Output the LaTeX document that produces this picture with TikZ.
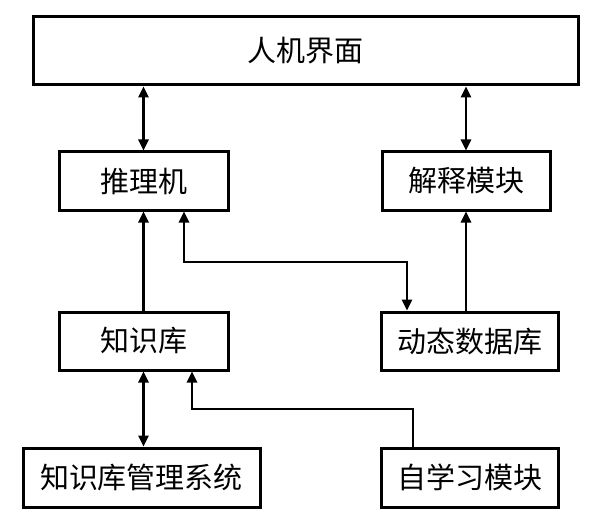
\documentclass[tikz,border=0pt]{standalone}
\usepackage{fontspec}
\newfontfamily\cjk{Noto Sans CJK SC}
\usetikzlibrary{arrows.meta}
\begin{document}
\begin{tikzpicture}[x=1pt,y=-1pt,
  box/.style={draw,line width=3pt,inner sep=0pt,font=\cjk\fontsize{29}{34}\selectfont},
  conn/.style={line width=2.5pt,-{Triangle[length=11pt,width=10pt]}},
  biconn/.style={line width=2.5pt,{Triangle[length=11pt,width=10pt]}-{Triangle[length=11pt,width=10pt]}}]
\useasboundingbox (0,0) rectangle (598,527);
\node[box,minimum width=545pt,minimum height=68pt] (ui) at (305.5,51) {人机界面};
\node[box,minimum width=169pt,minimum height=58pt] (tl) at (143.5,181) {推理机};
\node[box,minimum width=168pt,minimum height=58pt] (js) at (466,181) {解释模块};
\node[box,minimum width=169pt,minimum height=58pt] (kb) at (143.5,341) {知识库};
\node[box,minimum width=177pt,minimum height=58pt] (db) at (469.5,341) {动态数据库};
\node[box,minimum width=237pt,minimum height=59pt] (km) at (141.5,477.5) {知识库管理系统};
\node[box,minimum width=177pt,minimum height=59pt] (sl) at (469.5,477.5) {自学习模块};
\coordinate (c1) at (184,262);
\coordinate (c2) at (407,262);
\coordinate (c3) at (413,409);
\coordinate (c4) at (192,409);
\draw[biconn] (ui.south -| tl.north) -- (tl.north);
\draw[biconn] (ui.south -| js.north) -- (js.north);
\draw[conn] (kb.north) -- (tl.south);
\draw[biconn] (tl.south -| c1) -- (c1) -- (c2) -- (db.north -| c2);
\draw[conn] (db.north -| js.south) -- (js.south);
\draw[biconn] (kb.south) -- (km.north -| kb.south);
\draw[conn] (sl.north -| c3) -- (c3) -- (c4) -- (kb.south -| c4);
\end{tikzpicture}
\end{document}
